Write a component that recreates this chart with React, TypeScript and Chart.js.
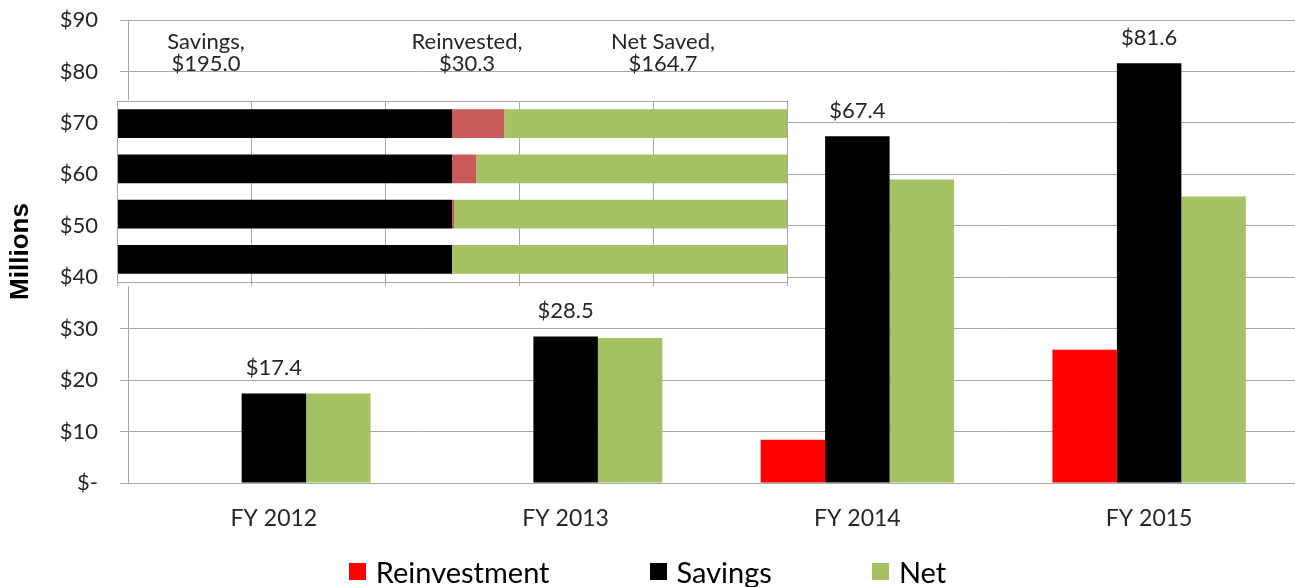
import React, { useEffect, useRef } from "react";
import { Chart, registerables } from "chart.js";

Chart.register(...registerables);

// ---- Main chart data ($ millions) ----
const categories = ["FY 2012", "FY 2013", "FY 2014", "FY 2015"];
const reinvestment = [0, 0, 8.4, 25.9];
const savings = [17.4, 28.5, 67.4, 81.6];
const net = [17.4, 28.2, 59.0, 55.7];
const seriesNames = ["Reinvestment", "Savings", "Net"];
const seriesColors = ["#FF0000", "#000000", "#A4C263"];
const yTickValues = [0, 10, 20, 30, 40, 50, 60, 70, 80, 90];

// ---- Inset (100% stacked) data, share of bar length in % ----
const insetRows = ["Cumulative", "Through FY 2014", "Through FY 2013", "FY 2012"];
const insetSavingsPct = [50, 50, 50, 50];
const insetReinvestedPct = [7.8, 3.6, 0.3, 0];
const insetNetPct = [42.2, 46.4, 49.7, 50];
const insetColors = ["#000000", "#C85B57", "#A4C263"];
const insetSummaryNames = ["Savings", "Reinvested", "Net Saved"];
const insetSummaryValues = [195.0, 30.3, 164.7];
const insetSummaryCenters = [206, 467, 663];

const FONT = "Lato";
const TEXT = "#262626";
const GRID = "#A6A6A6";

const fmt = (v: number) => (v === 0 ? "$-" : "$" + v);

export default function App() {
  const mainRef = useRef<HTMLCanvasElement>(null);
  const insetRef = useRef<HTMLCanvasElement>(null);

  useEffect(() => {
    const labelPlugin = {
      id: "savingsLabels",
      afterDatasetsDraw(chart: any) {
        const ctx = chart.ctx;
        const meta = chart.getDatasetMeta(1);
        ctx.save();
        ctx.font = `22px ${FONT}`;
        ctx.fillStyle = TEXT;
        ctx.textAlign = "center";
        ctx.textBaseline = "alphabetic";
        meta.data.forEach((el: any, i: number) => {
          ctx.fillText("$" + savings[i].toFixed(1), el.x, el.y - 18);
        });
        ctx.restore();
      },
    };

    const main = new Chart(mainRef.current!, {
      type: "bar",
      data: {
        labels: categories,
        datasets: [
          { label: seriesNames[0], data: reinvestment, backgroundColor: seriesColors[0] },
          { label: seriesNames[1], data: savings, backgroundColor: seriesColors[1] },
          { label: seriesNames[2], data: net, backgroundColor: seriesColors[2] },
        ],
      },
      options: {
        responsive: false,
        animation: false,
        layout: { padding: { top: 20, right: 0, bottom: 54, left: 0 } },
        datasets: { bar: { categoryPercentage: 0.663, barPercentage: 1 } },
        plugins: { legend: { display: false }, tooltip: { enabled: false } },
        scales: {
          x: {
            grid: { display: false, drawTicks: false },
            border: { display: true, color: GRID },
            ticks: { font: { family: FONT, size: 23 }, color: TEXT, padding: 22 },
            afterFit: (s: any) => { s.height = 50; },
          },
          y: {
            min: 0,
            max: 90,
            afterBuildTicks: (s: any) => { s.ticks = yTickValues.map((v) => ({ value: v })); },
            ticks: {
              font: { family: FONT, size: 22 },
              color: TEXT,
              padding: 22,
              callback: (v: any) => fmt(Number(v)),
            },
            grid: { color: GRID, tickLength: 8, drawTicks: true },
            border: { display: true, color: GRID },
            title: {
              display: true,
              text: "Millions",
              font: { family: "Liberation Sans", size: 26, weight: "bold" },
              color: "#000",
              padding: { top: 5, bottom: 0 },
            },
            afterFit: (s: any) => {
              s.width = 128;
              s.paddingTop = 0;
              s.paddingBottom = 0;
            },
          },
        },
      },
      plugins: [labelPlugin],
    });

    const insetBg = {
      id: "insetBg",
      beforeDraw(chart: any) {
        const ctx = chart.ctx;
        ctx.save();
        ctx.fillStyle = "#fff";
        ctx.fillRect(0, 0, chart.width, chart.height);
        ctx.restore();
      },
      afterDraw(chart: any) {
        const { left, right, top, bottom } = chart.chartArea;
        const ctx = chart.ctx;
        ctx.save();
        ctx.strokeStyle = GRID;
        ctx.lineWidth = 1;
        ctx.strokeRect(Math.round(left) + 0.5, Math.round(top) + 0.5, Math.round(right - left), Math.round(bottom - top));
        ctx.restore();
      },
    };

    const inset = new Chart(insetRef.current!, {
      type: "bar",
      data: {
        labels: insetRows,
        datasets: [
          { label: insetSummaryNames[0], data: insetSavingsPct, backgroundColor: insetColors[0] },
          { label: insetSummaryNames[1], data: insetReinvestedPct, backgroundColor: insetColors[1] },
          { label: insetSummaryNames[2], data: insetNetPct, backgroundColor: insetColors[2] },
        ],
      },
      options: {
        indexAxis: "y",
        responsive: false,
        animation: false,
        layout: { padding: { top: 1, left: 1, right: 1, bottom: 0 } },
        datasets: { bar: { categoryPercentage: 1, barPercentage: 0.635 } },
        plugins: { legend: { display: false }, tooltip: { enabled: false } },
        scales: {
          x: {
            stacked: true,
            min: 0,
            max: 100,
            ticks: { display: false, stepSize: 20 },
            grid: { color: GRID, tickLength: 4, drawTicks: true },
            border: { display: true, color: GRID },
          },
          y: { stacked: true, display: false },
        },
      },
      plugins: [insetBg],
    });

    return () => {
      main.destroy();
      inset.destroy();
    };
  }, []);

  return (
    <div
      style={{
        position: "fixed",
        left: 0,
        top: 0,
        width: 1295,
        height: 587,
        background: "#fff",
        overflow: "hidden",
        fontFamily: FONT,
        color: TEXT,
      }}
    >
      <canvas ref={mainRef} width={1295} height={587} style={{ position: "absolute", left: 0, top: 0 }} />
      <canvas ref={insetRef} width={672} height={186} style={{ position: "absolute", left: 116, top: 100 }} />
      {insetSummaryNames.map((n, i) => (
        <div
          key={n}
          style={{
            position: "absolute",
            left: insetSummaryCenters[i] - 100,
            width: 200,
            top: 30,
            textAlign: "center",
            fontSize: 22,
            lineHeight: "22px",
          }}
        >
          {n},<br />${insetSummaryValues[i].toFixed(1)}
        </div>
      ))}
      <div
        style={{
          position: "absolute",
          left: 0,
          width: 1295,
          top: 556,
          height: 31,
          display: "flex",
          justifyContent: "center",
          alignItems: "center",
          gap: 100,
          fontSize: 29,
          color: "#000",
        }}
      >
        {seriesNames.map((n, i) => (
          <div key={n} style={{ display: "flex", alignItems: "center" }}>
            <span style={{ display: "inline-block", width: 17, height: 17, background: seriesColors[i], marginRight: 10 }} />
            <span>{n}</span>
          </div>
        ))}
      </div>
    </div>
  );
}
